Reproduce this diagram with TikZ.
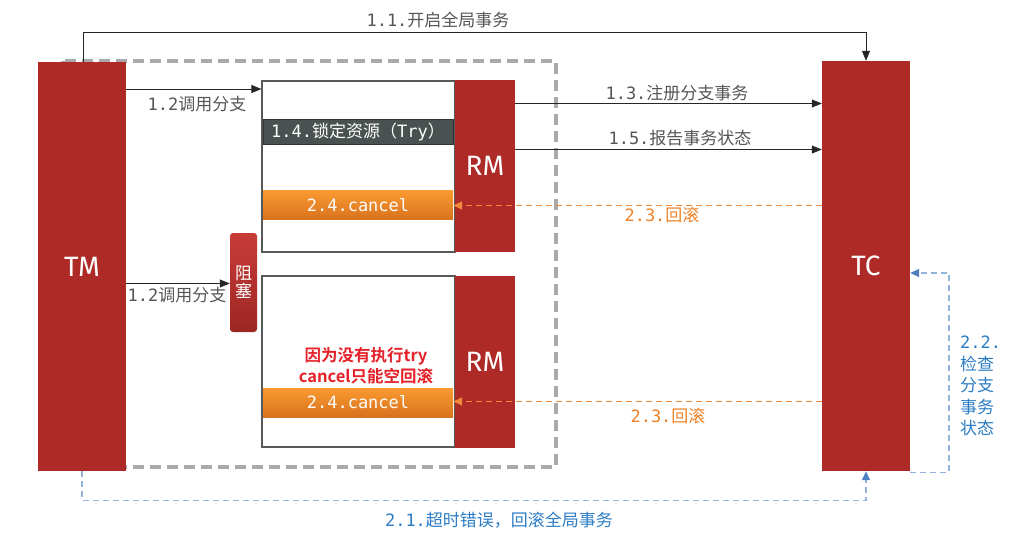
\documentclass[tikz,border=0pt]{standalone}
\usepackage{fontspec}
\setmainfont{Noto Sans CJK SC}[BoldFont={Noto Sans CJK SC Bold}]
\newfontfamily\mono{DejaVu Sans Mono}
\newfontfamily\fira{Fira Sans}
\usetikzlibrary{arrows.meta}
\definecolor{myred}{HTML}{AD2A27}
\definecolor{labgray}{HTML}{555555}
\definecolor{boxgray}{HTML}{4A5151}
\definecolor{dashgray}{HTML}{AAAAAA}
\definecolor{orline}{HTML}{F08A3A}
\definecolor{ortext}{HTML}{EE8127}
\definecolor{bluetext}{HTML}{2C7CC4}
\definecolor{blueline}{HTML}{94B3DC}
\definecolor{bluehead}{HTML}{4F80C2}
\definecolor{redtext}{HTML}{E52129}
\definecolor{ortop}{HTML}{FA9A30}
\definecolor{orbot}{HTML}{D8721E}
\definecolor{blktop}{HTML}{C83C38}
\definecolor{blkbot}{HTML}{9C2623}
\tikzset{
  redbox/.style={fill=myred, draw=none, inner sep=0pt, text=white, font=\fira\fontsize{28}{30}\selectfont},
  whitebox/.style={fill=white, draw=black!65, line width=1.2pt, inner sep=0pt},
  trybox/.style={fill=boxgray, draw=black!80, line width=0.6pt, inner sep=0pt, text=white, font=\fontsize{17}{20}\selectfont},
  cancelbox/.style={top color=ortop, bottom color=orbot, draw=none, inner sep=0pt, text=white, font=\mono\fontsize{17}{20}\selectfont},
  blockbox/.style={top color=blktop, bottom color=blkbot, rounded corners=3pt, draw=none, inner sep=0pt, text=white, align=center, font=\fontsize{17}{20}\selectfont},
  lbl/.style={text=labgray, inner sep=0pt, font=\fontsize{17}{20}\selectfont},
  orlbl/.style={text=ortext, inner sep=0pt, font=\fontsize{17}{20}\selectfont},
  bluelbl/.style={text=bluetext, inner sep=0pt, font=\fontsize{17}{21.5}\selectfont},
  darrow/.style={draw=black!85, line width=0.8pt, -{Triangle[length=10pt,width=8pt]}},
  orarrow/.style={draw=orline, line width=1.3pt, dash pattern=on 6pt off 4pt, -{Triangle[length=9pt,width=8pt,color=orline]}},
  bluearrow/.style={draw=blueline, line width=1.3pt, dash pattern=on 6pt off 4pt, -{Triangle[length=9pt,width=8pt,color=bluehead]}},
  dashbox/.style={draw=dashgray, line width=3.5pt, dash pattern=on 11pt off 6pt}
}
\begin{document}
\begin{tikzpicture}[x=1pt,y=-1pt]
\useasboundingbox (0,0) rectangle (1027,546);
% dashed group frame
\draw[dashbox] (63,61) rectangle (556,467);
% main actors
\node[redbox, minimum width=88, minimum height=409] (tm) at (82,266.5) {TM};
\node[redbox, minimum width=88, minimum height=410] (tc) at (866,266) {TC};
% upper branch
\node[whitebox, minimum width=193, minimum height=171] (ub) at (358.5,166.5) {};
\node[redbox, minimum width=60, minimum height=172] (rm1) at (485,166) {RM};
\node[trybox, minimum width=190, minimum height=25] (try) at (358,132) {{\mono 1.4.}锁定资源（{\mono Try}）};
\node[cancelbox, minimum width=190, minimum height=29] (c1) at (358,205) {2.4.cancel};
% lower branch
\node[whitebox, minimum width=193, minimum height=171] (lb) at (358.5,361.5) {};
\node[redbox, minimum width=60, minimum height=172] (rm2) at (485,361.5) {RM};
\node[cancelbox, minimum width=190, minimum height=29] (c2) at (358,402.5) {2.4.cancel};
\node[text=redtext, font=\bfseries\fontsize{16.5}{21}\selectfont, align=center, inner sep=0pt] (note) at (366,366) {因为没有执行try\\cancel只能空回滚};
\node[blockbox, minimum width=27, minimum height=99] (blk) at (243.5,282.5) {阻\\[-2pt]塞};
% helper coordinates
\coordinate (y89) at (0,89);
\coordinate (y283) at (0,283.5);
\coordinate (y103) at (0,103.5);
\coordinate (y149) at (0,149.5);
\coordinate (y205) at (0,205.5);
\coordinate (y401) at (0,401.5);
\coordinate (y273) at (0,273);
\coordinate (x950) at (949,0);
% 1.1
\draw[darrow] ([xshift=1pt]tm.north) -- ++(0,-29) -| (tc.north);
\node[lbl] (l11) at (438,20) {{\mono 1.1.}开启全局事务};
% 1.2
\draw[darrow] (tm.east |- y89) -- (ub.west |- y89);
\node[lbl] (l12a) at (197,104) {{\mono 1.2}调用分支};
\draw[darrow] (tm.east |- y283) -- (blk.west |- y283);
\node[lbl] (l12b) at (177,295) {{\mono 1.2}调用分支};
% 1.3 / 1.5
\draw[darrow] (rm1.east |- y103) -- (tc.west |- y103);
\node[lbl] (l13) at (677,93) {{\mono 1.3.}注册分支事务};
\draw[darrow] (rm1.east |- y149) -- (tc.west |- y149);
\node[lbl] (l15) at (680,138) {{\mono 1.5.}报告事务状态};
% 2.3
\draw[orarrow] (tc.west |- y205) -- (c1.east |- y205);
\node[orlbl] (l23a) at (662,215) {{\mono 2.3.}回滚};
\draw[orarrow] (tc.west |- y401) -- (c2.east |- y401);
\node[orlbl] (l23b) at (668,416) {{\mono 2.3.}回滚};
% 2.1
\draw[bluearrow] (tm.south) -- ++(0,29) -| (tc.south);
\node[bluelbl] (l21) at (499,520) {{\mono 2.1.}超时错误，回滚全局事务};
% 2.2
\draw[bluearrow] ([yshift=-1pt]tc.south east) -| (x950 |- y273) -- (tc.east |- y273);
\node[bluelbl, align=left, anchor=north west] (l22) at (960,336) {{\mono 2.2.}\\检查\\分支\\事务\\状态};
\end{tikzpicture}
\end{document}
